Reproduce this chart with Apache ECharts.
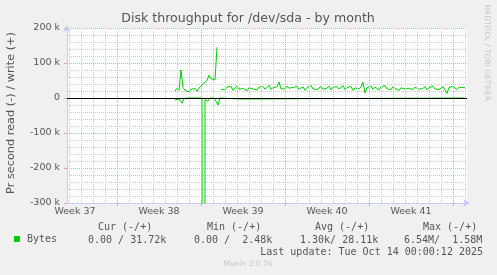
<!DOCTYPE html>
<html><head><meta charset="utf-8">
<script src="https://cdn.jsdelivr.net/npm/echarts@6/dist/echarts.min.js"></script>
<style>html,body{margin:0;padding:0;background:#f0f0f0}#c{width:497px;height:275px}</style>
</head><body><div id="c"></div>
<script>
// x values: hours from the left edge of the 800-hour window (right edge ~ Tue Oct 14 2025)
const weekLabels = ['Week 37', 'Week 38', 'Week 39', 'Week 40', 'Week 41'];
const weekLabelHours = [16, 184, 352, 520, 688];
const weekStartHours = [100, 268, 436, 604, 772];
const dayHours = [4, 28, 52, 76, 124, 148, 172, 196, 220, 244, 292, 316, 340, 364, 388, 412,
  460, 484, 508, 532, 556, 580, 628, 652, 676, 700, 724, 748, 796];
const yTicks = [-300000, -200000, -100000, 0, 100000, 200000];

// write (+) series, thousands of bytes per second, one value every 4 hours from hour 216
const writeStartHour = 216;
const writeStepHours = 4;
const writeK = [
  20, 28, 22, 80, 30, 22, 26, 18, 25, 20, 27, 19, 28, 30, 40, 35, 50, 65, 55, 60, 52, 145, null, 25,
  28, 24, 31, 26, 33, 22, 29, 35, 25, 30,
  27, 32, 21, 29, 34, 26, 30, 23, 31, 28,
  33, 25, 29, 36, 24, 30, 27, 32, 46, 26,
  31, 26, 34, 28, 23, 30, 27, 33, 25, 29,
  32, 22, 30, 27, 35, 26, 31, 24, 29, 33,
  25, 30, 28, 34, 23, 31, 27, 32, 26, 29,
  35, 24, 30, 28, 33, 22, 29, 31, 26, 32,
  45, 14, 30, 27, 34, 25, 31, 28, 23, 32,
  29, 35, 26, 30, 24, 33, 27, 31, 22, 29,
  34, 26, 30, 28, 32, 24, 31, 36, 25, 29,
  27, 33, 23, 30, 28, 34, 26, 31, 24, 29,
  32, 27, 13, 30, 26, 33, 28, 24, 31, 27,
  30, 29
];

// read (-) series, thousands of bytes per second (plotted negative)
const readHours = [216, 220, 224, 230, 234, 240, 248, 252, 256, 270, 274, 275, 276, 278, 282, 286, 294, 298, 302, 306, 350, 354, 462, 466, 796];
const readK =     [5,   0,   3,   15,  2,   0,   0,   4,   0,   0,   5,   6540, 5,  0,   9,   0,   0,   3,   20,  0,   3,   0,   2,   0,   0];

const green = '#00cc00';
const axisBlue = '#c6cdf6';
const majorGrid = '#e8a4a4';
const minorGrid = '#c8c8c8';
const txt = '#555555';

const writeData = writeK.map((v, i) => [writeStartHour + i * writeStepHours, v === null ? null : v * 1000]);
const readData = readHours.map((h, i) => [h, -readK[i] * 1000]);

const chart = echarts.init(document.getElementById('c'), null, {renderer: 'canvas'});
chart.setOption({
  animation: false,
  backgroundColor: '#f0f0f0',
  grid: {left: 67, top: 28, width: 400, height: 175, show: true, backgroundColor: '#ffffff', borderWidth: 0},
  legend: {
    data: ['Bytes'], left: 14, top: 234, padding: 0, itemWidth: 6, itemHeight: 6, icon: 'rect',
    selectedMode: false,
    textStyle: {fontFamily: 'DejaVu Sans Mono', fontSize: 10, color: txt, padding: [0, 0, 0, 2]}
  },
  xAxis: {
    type: 'value', min: 0, max: 800,
    axisLine: {show: true, onZero: false, lineStyle: {color: axisBlue, width: 1}, symbol: ['none', 'arrow'], symbolSize: [6, 7], symbolOffset: [0, 3]},
    axisTick: {show: true, customValues: weekStartHours, length: 3, lineStyle: {color: majorGrid}},
    axisLabel: {
      customValues: weekLabelHours, margin: 4,
      formatter: v => weekLabels[weekLabelHours.indexOf(v)] || '',
      fontFamily: 'DejaVu Sans', fontSize: 9.5, color: txt
    },
    splitLine: {show: false}
  },
  yAxis: {
    type: 'value', min: -300000, max: 200000, interval: 100000,
    axisLine: {show: true, onZero: false, lineStyle: {color: axisBlue, width: 1}, symbol: ['none', 'arrow'], symbolSize: [6, 7], symbolOffset: [0, 3]},
    axisTick: {show: true, length: 3, lineStyle: {color: majorGrid}},
    axisLabel: {
      margin: 7, fontFamily: 'DejaVu Sans', fontSize: 9.5, color: txt,
      formatter: v => v === 0 ? '0' : (v / 1000) + ' k'
    },
    splitLine: {show: true, lineStyle: {color: majorGrid, type: [1, 1], width: 1}},
    minorTick: {show: false, splitNumber: 5},
    minorSplitLine: {show: true, lineStyle: {color: minorGrid, type: [1, 1], width: 1}}
  },
  series: [
    {
      type: 'line', name: 'grid', data: [], z: 1, silent: true,
      markLine: {
        silent: true, symbol: 'none', animation: false, label: {show: false},
        data: dayHours.map(h => ({xAxis: h, lineStyle: {color: minorGrid, type: [1, 1], width: 1}}))
          .concat(weekStartHours.map(h => ({xAxis: h, lineStyle: {color: majorGrid, type: [1, 1], width: 1}})))
      }
    },
    {
      type: 'line', name: 'Bytes', data: readData, z: 3, showSymbol: false, symbol: 'none',
      lineStyle: {color: green, width: 1}, itemStyle: {color: green}, connectNulls: false
    },
    {
      type: 'line', name: 'Bytes', data: writeData, z: 3, showSymbol: false, symbol: 'none',
      lineStyle: {color: green, width: 1}, itemStyle: {color: green}, connectNulls: false,
      markLine: {
        silent: true, symbol: 'none', animation: false, label: {show: false},
        data: [{yAxis: 0, lineStyle: {color: '#000000', type: 'solid', width: 1}}]
      }
    }
  ],
  graphic: [
    {type: 'text', x: 248, y: 19, style: {text: 'Disk throughput for /dev/sda - by month', font: '12.6px "DejaVu Sans"', fill: txt, textAlign: 'center', textVerticalAlign: 'middle'}},
    {type: 'text', x: 11, y: 113, rotation: Math.PI / 2, style: {text: 'Pr second read (-) / write (+)', font: '11.3px "DejaVu Sans"', fill: txt, textAlign: 'center', textVerticalAlign: 'middle'}},
    {type: 'text', x: 487, y: 53, rotation: -Math.PI / 2, style: {text: 'RRDTOOL / TOBI OETIKER', font: '7.5px "DejaVu Sans"', fill: '#c8c8c8', textAlign: 'center', textVerticalAlign: 'middle'}},
    {type: 'text', x: 98, y: 227, style: {text: 'Cur (-/+)', font: '10px "DejaVu Sans Mono"', fill: txt, textVerticalAlign: 'middle'}},
    {type: 'text', x: 207, y: 227, style: {text: 'Min (-/+)', font: '10px "DejaVu Sans Mono"', fill: txt, textVerticalAlign: 'middle'}},
    {type: 'text', x: 315, y: 227, style: {text: 'Avg (-/+)', font: '10px "DejaVu Sans Mono"', fill: txt, textVerticalAlign: 'middle'}},
    {type: 'text', x: 423, y: 227, style: {text: 'Max (-/+)', font: '10px "DejaVu Sans Mono"', fill: txt, textVerticalAlign: 'middle'}},
    {type: 'text', x: 88, y: 240, style: {text: '0.00 / 31.72k', font: '10px "DejaVu Sans Mono"', fill: txt, textVerticalAlign: 'middle'}},
    {type: 'text', x: 194, y: 240, style: {text: '0.00 /  2.48k', font: '10px "DejaVu Sans Mono"', fill: txt, textVerticalAlign: 'middle'}},
    {type: 'text', x: 300, y: 240, style: {text: '1.30k/ 28.11k', font: '10px "DejaVu Sans Mono"', fill: txt, textVerticalAlign: 'middle'}},
    {type: 'text', x: 404, y: 240, style: {text: '6.54M/  1.58M', font: '10px "DejaVu Sans Mono"', fill: txt, textVerticalAlign: 'middle'}},
    {type: 'text', x: 483, y: 252, style: {text: 'Last update: Tue Oct 14 00:00:12 2025', font: '10px "DejaVu Sans Mono"', fill: txt, textAlign: 'right', textVerticalAlign: 'middle'}},
    {type: 'text', x: 248, y: 264, style: {text: 'Munin 2.0.76', font: '7.5px "DejaVu Sans"', fill: '#c8c8c8', textAlign: 'center', textVerticalAlign: 'middle'}}
  ]
});
</script>
</body></html>
